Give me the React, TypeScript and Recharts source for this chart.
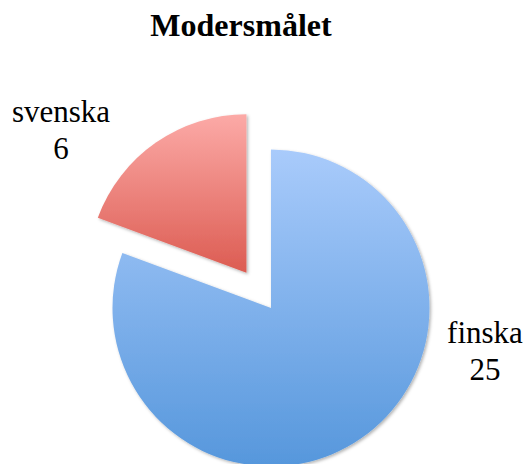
import { PieChart, Pie, Cell } from 'recharts'

const languages = ['finska', 'svenska']
const speakers = [25, 6]
const explodedSlice = 'svenska'

const data = languages.map((name, i) => ({ name, value: speakers[i] }))
const total = speakers.reduce((a, b) => a + b, 0)

const W = 527
const H = 464
const CX = 266
const CY = 303
const R = 158.5
const EXPLODE = 43
const START = 90
const END = -270

const fills: Record<string, string> = {
  finska: 'url(#gradBlue)',
  svenska: 'url(#gradRed)',
}

// mid angle of the exploded slice, from the data
const idx = languages.indexOf(explodedSlice)
const before = speakers.slice(0, idx).reduce((a, b) => a + b, 0)
const midDeg = START - (360 * (before + speakers[idx] / 2)) / total
const midRad = (midDeg * Math.PI) / 180
const exCx = CX + EXPLODE * Math.cos(midRad)
const exCy = CY - EXPLODE * Math.sin(midRad)

// label anchors relative to pie centre
const labelPos: Record<string, { dx: number; dy: number }> = {
  finska: { dx: 219, dy: 40 },
  svenska: { dx: -205, dy: -181 },
}

const font = '"Liberation Serif", "Times New Roman", serif'

const renderLabel = (show: string) => (props: any) => {
  const { name, value } = props
  if (name !== show) return null
  const p = labelPos[name]
  const x = CX + p.dx
  const y = CY + p.dy
  return (
    <text x={x} y={y} textAnchor="middle" style={{ fontFamily: font }} fontSize={31} fill="#000">
      <tspan x={x} y={y}>{name}</tspan>
      <tspan x={x} y={y + 37}>{value}</tspan>
    </text>
  )
}

export default function App() {
  const others = languages.filter((l) => l !== explodedSlice)
  return (
    <div style={{ position: 'absolute', left: 0, top: 0, width: W, height: H, background: '#fff' }}>
      <div
        style={{
          position: 'absolute',
          left: 0,
          top: 9,
          width: 482,
          textAlign: 'center',
          fontFamily: font,
          fontWeight: 'bold',
          fontSize: 32,
          lineHeight: '32px',
          color: '#000',
        }}
      >
        Modersmålet
      </div>
      <PieChart width={W} height={H}>
        <defs>
          <linearGradient id="gradBlue" x1="0" y1="0" x2="0" y2="1">
            <stop offset="0%" stopColor="#a9cbfb" />
            <stop offset="100%" stopColor="#5697dc" />
          </linearGradient>
          <linearGradient id="gradRed" x1="0" y1="0" x2="0" y2="1">
            <stop offset="0%" stopColor="#fcaaa7" />
            <stop offset="100%" stopColor="#dc5c52" />
          </linearGradient>
          <filter id="shadow" x="-10%" y="-10%" width="120%" height="120%">
            <feDropShadow dx="1.5" dy="1.5" stdDeviation="1.5" floodColor="#000" floodOpacity="0.3" />
          </filter>
        </defs>
        <Pie
          data={data}
          dataKey="value"
          nameKey="name"
          cx={CX}
          cy={CY}
          outerRadius={R}
          startAngle={START}
          endAngle={END}
          stroke="none"
          labelLine={false}
          label={renderLabel(others[0])}
          isAnimationActive={false}
        >
          {data.map((d) => (
            <Cell
              key={d.name}
              fill={d.name === explodedSlice ? 'none' : fills[d.name]}
              filter={d.name === explodedSlice ? undefined : 'url(#shadow)'}
            />
          ))}
        </Pie>
        <Pie
          data={data}
          dataKey="value"
          nameKey="name"
          cx={exCx}
          cy={exCy}
          outerRadius={R}
          startAngle={START}
          endAngle={END}
          stroke="none"
          labelLine={false}
          label={renderLabel(explodedSlice)}
          isAnimationActive={false}
        >
          {data.map((d) => (
            <Cell
              key={d.name}
              fill={d.name === explodedSlice ? fills[d.name] : 'none'}
              filter={d.name === explodedSlice ? 'url(#shadow)' : undefined}
            />
          ))}
        </Pie>
      </PieChart>
    </div>
  )
}
